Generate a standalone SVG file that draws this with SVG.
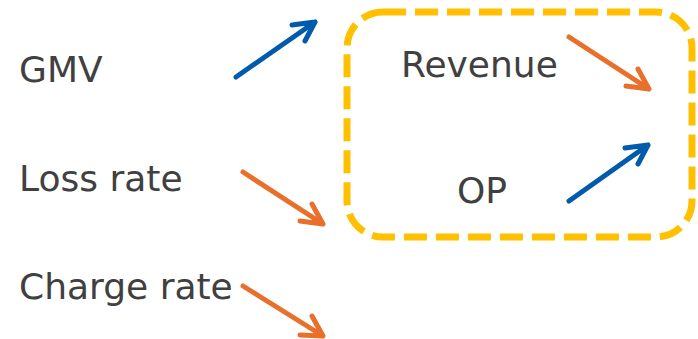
<svg xmlns="http://www.w3.org/2000/svg" width="698" height="339" viewBox="0 0 698 339">
<style>
.t{font-family:"DejaVu Sans","Verdana",sans-serif;font-size:36px;fill:#404040}
.a{fill:none;stroke-width:5;stroke-linecap:round;stroke-linejoin:round}
.o{stroke:#E8702A}
.b{stroke:#005BAC}
</style>
<rect width="698" height="339" fill="#fff"/>
<g id="box"><rect x="347" y="12" width="345" height="225" rx="36" fill="none" stroke="#FFC000" stroke-width="7" stroke-dasharray="23 9"/></g>
<g id="gmv"><text class="t" x="19" y="82">GMV</text></g>
<g id="loss"><text class="t" x="19" y="191">Loss rate</text></g>
<g id="charge"><text class="t" x="19" y="299">Charge rate</text></g>
<g id="revenue"><text class="t" x="401" y="77">Revenue</text></g>
<g id="op"><text class="t" x="457" y="203">OP</text></g>
<g id="connectors">
<path class="a b" d="M236 77 L315 22 M292 25 L315 22 L305 41"/>
<path class="a o" d="M243 172 L323 224 M300 221 L323 224 L312 204"/>
<path class="a o" d="M243 286 L323 336 M300 335 L323 336 L312 316"/>
<path class="a o" d="M569 37 L649 89 M626 86 L649 89 L638 69"/>
<path class="a b" d="M569 201 L648 145 M625 148 L648 145 L638 164"/>
</g>
</svg>
